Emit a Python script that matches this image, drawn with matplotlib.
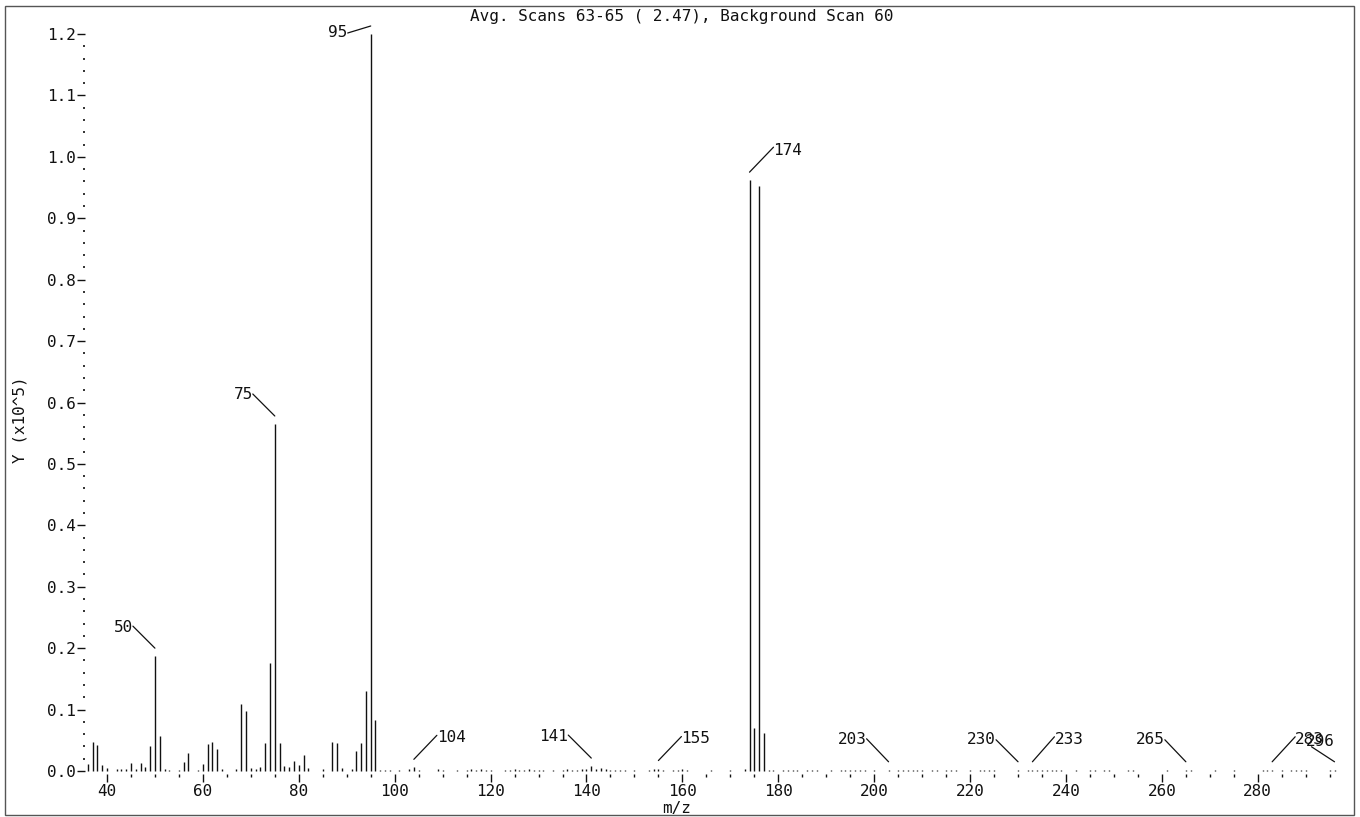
import matplotlib
matplotlib.use("Agg")
import matplotlib.pyplot as plt
from matplotlib.patches import Rectangle
from matplotlib.transforms import offset_copy
from matplotlib.ticker import MultipleLocator, FixedLocator, FormatStrFormatter

# ---- spectrum data: m/z and abundance (x10^5) ----
mz_low = [36, 37, 38, 39, 40, 42, 43, 44, 45, 46, 47, 48, 49, 50, 51, 52, 53,
          55, 56, 57, 59, 60, 61, 62, 63, 64, 67, 68, 69, 70, 71, 72, 73, 74,
          75, 76, 77, 78, 79, 80, 81, 82, 85, 87, 88, 89, 91, 92, 93, 94, 95,
          96, 97, 98, 99]
abund_low = [0.011, 0.048, 0.042, 0.010, 0.005, 0.003, 0.003, 0.003, 0.0125,
             0.003, 0.0125, 0.0065, 0.040, 0.187, 0.0576, 0.003, 0.0016,
             0.0016, 0.014, 0.030, 0.002, 0.011, 0.0435, 0.048, 0.036, 0.003,
             0.003, 0.109, 0.098, 0.005, 0.003, 0.007, 0.046, 0.1755, 0.565,
             0.046, 0.008, 0.007, 0.016, 0.009, 0.026, 0.005, 0.004, 0.048,
             0.0457, 0.005, 0.004, 0.0326, 0.0457, 0.130, 1.200, 0.083, 0.002,
             0.002, 0.002]

mz_high = [101, 103, 104, 105, 109, 110, 113, 115, 116, 117, 118, 119, 120,
           123, 124, 125, 126, 127, 128, 129, 130, 131, 133, 135, 136, 137,
           138, 139, 140, 141, 142, 143, 144, 145, 146, 147, 148, 150, 153,
           154, 155, 156, 158, 159, 160, 161, 166, 170, 173, 174, 175, 176,
           177, 178, 179, 181, 182, 183, 184, 186, 187, 188, 191, 193, 194,
           195, 196, 197, 198, 200, 203, 205, 206, 207, 208, 209, 210, 212,
           213, 215, 216, 217, 220, 222, 223, 224, 225, 230, 232, 233, 234,
           235, 236, 237, 238, 239, 242, 245, 246, 248, 249, 253, 254, 261,
           265, 266, 271, 275, 281, 282, 283, 285, 287, 288, 289, 290, 295,
           296]
abund_high = [0.002, 0.003, 0.006, 0.002, 0.003, 0.002, 0.002, 0.002, 0.003,
              0.002, 0.003, 0.002, 0.002, 0.002, 0.002, 0.003, 0.002, 0.002,
              0.003, 0.002, 0.002, 0.002, 0.002, 0.002, 0.003, 0.002, 0.002,
              0.003, 0.004, 0.008, 0.003, 0.005, 0.003, 0.002, 0.002, 0.002,
              0.002, 0.002, 0.002, 0.003, 0.004, 0.002, 0.002, 0.002, 0.003,
              0.002, 0.002, 0.002, 0.003, 0.962, 0.070, 0.952, 0.062, 0.002,
              0.002, 0.002, 0.002, 0.002, 0.002, 0.002, 0.002, 0.002, 0.002,
              0.002, 0.002, 0.002, 0.002, 0.002, 0.002, 0.002, 0.002, 0.002,
              0.002, 0.002, 0.002, 0.002, 0.002, 0.002, 0.002, 0.002, 0.002,
              0.002, 0.002, 0.002, 0.002, 0.002, 0.002, 0.002, 0.002, 0.002,
              0.002, 0.002, 0.002, 0.002, 0.002, 0.002, 0.002, 0.002, 0.002,
              0.002, 0.002, 0.002, 0.002, 0.002, 0.002, 0.002, 0.002, 0.002,
              0.002, 0.002, 0.002, 0.002, 0.002, 0.002, 0.002, 0.002, 0.002,
              0.002]

labeled_mz = [50, 75, 95, 104, 141, 155, 174, 203, 230, 233, 265, 283, 296]

x_ticks = [40, 60, 80, 100, 120, 140, 160, 180, 200, 220, 240, 260, 280]
title_text = "Avg. Scans 63-65 ( 2.47), Background Scan 60"
x_label = "m/z"
y_label = "Y (x10^5)"

# ---- leader-line layout for peak labels (pixel offsets) ----
# mz: (line dx, line dy, text dx, text dy, ha)
leader_layout = {
    50: (-22, 22, -22, 21, "right"),
    75: (-22, 22, -22, 21, "right"),
    95: (-23, -7, -23, -7, "right"),
    104: (23, 24, 23, 22, "left"),
    141: (-23, 23, -23, 22, "right"),
    155: (23, 24, 23, 22, "left"),
    174: (24, 25, 24, 22, "left"),
    203: (-22, 23, -22, 22, "right"),
    230: (-22, 22, -22, 22, "right"),
    233: (22, 25, 22, 22, "left"),
    265: (-21, 22, -21, 22, "right"),
    283: (23, 25, 23, 22, "left"),
    296: (-23, 15, 0, 20, "right"),
}

FONT = "DejaVu Sans Mono"
FS = 11.5
plt.rcParams["font.family"] = FONT

W, H = 1360, 817
fig = plt.figure(figsize=(W / 100, H / 100), dpi=100)

# outer frame
fig.patches.append(Rectangle((5 / W, 2 / H), 1349 / W, 809 / H,
                             transform=fig.transFigure, fill=False,
                             edgecolor="#555555", lw=1.0))

ax = fig.add_axes([85.4 / W, 43 / H, 1256.3 / W, 744 / H])
ax.set_xlim(35.5, 297.5)
ax.set_ylim(-0.00488, 1.20651)
for s in ax.spines.values():
    s.set_visible(False)

mz_all = mz_low + mz_high
ab_all = abund_low + abund_high
ax.vlines(mz_all, 0, ab_all, colors="#111111", lw=1.0)

# axes ticks
ax.xaxis.set_major_locator(FixedLocator(x_ticks))
ax.xaxis.set_minor_locator(MultipleLocator(5))
ax.yaxis.set_major_locator(MultipleLocator(0.1))
ax.yaxis.set_minor_locator(MultipleLocator(0.02))
ax.yaxis.set_major_formatter(FormatStrFormatter("%.1f"))
ax.tick_params(axis="both", which="both", labelsize=FS, colors="#111111")
ax.tick_params(axis="x", which="major", direction="out", length=5.8, width=1, pad=1.5)
ax.tick_params(axis="x", which="minor", direction="out", length=2.2, width=1)
ax.tick_params(axis="y", which="major", direction="out", length=5.5, width=1, pad=1.5)
ax.tick_params(axis="y", which="minor", direction="out", length=1.4, width=1.2)

# peak labels with leader lines
lookup = dict(zip(mz_all, ab_all))
for m in labeled_mz:
    h = lookup[m]
    ldx, ldy, tdx, tdy, ha = leader_layout[m]
    base = offset_copy(ax.transData, fig=fig, x=0, y=8, units="dots")
    ax.annotate("", xy=(m, h), xycoords=base, xytext=(ldx, ldy),
                textcoords="offset pixels", annotation_clip=False,
                arrowprops=dict(arrowstyle="-", color="#111111", lw=0.9,
                                shrinkA=0, shrinkB=0, patchA=None))
    ax.annotate(str(m), xy=(m, h), xycoords=base, xytext=(tdx, tdy),
                textcoords="offset pixels", ha=ha, va="center",
                fontsize=FS, color="#111111", annotation_clip=False)

fig.text(682 / W, 1 - 17 / H, title_text, ha="center", va="center",
         fontsize=FS, color="#111111")
fig.text(677 / W, 1 - 808 / H, x_label, ha="center", va="center",
         fontsize=FS, color="#111111")
fig.text(20 / W, 1 - 420 / H, y_label, ha="center", va="center",
         rotation=90, fontsize=FS, color="#111111")

fig.savefig("out.png", dpi=100)
